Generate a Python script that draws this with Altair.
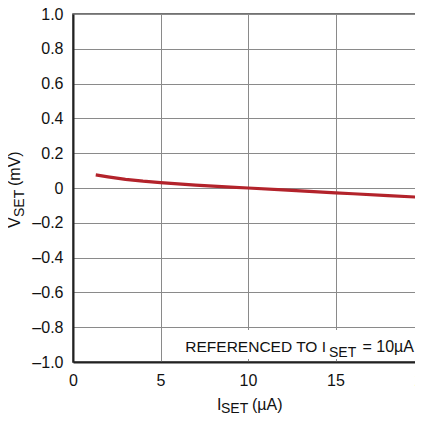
import altair as alt
import pandas as pd

# Data
iset_ua = [1.3, 2, 3, 4, 5, 6, 7, 8, 9, 10, 12, 14, 15, 16, 18, 20]
vset_mv = [0.075, 0.064, 0.050, 0.039, 0.031, 0.024, 0.017, 0.011, 0.005, 0.0,
           -0.011, -0.022, -0.028, -0.033, -0.044, -0.054]
x_ticks = [0, 5, 10, 15, 20]
y_ticks = [-1.0, -0.8, -0.6, -0.4, -0.2, 0.0, 0.2, 0.4, 0.6, 0.8, 1.0]

FONT = "Liberation Sans, Arial, Helvetica, sans-serif"
LINE_COLOR = "#B3232B"

df = pd.DataFrame({"iset": iset_ua, "vset": vset_mv})
one = pd.DataFrame({"k": [0]})

line = alt.Chart(df).mark_line(color=LINE_COLOR, strokeWidth=3.2).encode(
    x=alt.X("iset:Q",
            scale=alt.Scale(domain=[0, 20], nice=False, zero=False),
            axis=alt.Axis(values=x_ticks, title=None, grid=True, ticks=False,
                          labelFlush=False, labelOverlap=False, labelPadding=10,
                          format="d")),
    y=alt.Y("vset:Q",
            scale=alt.Scale(domain=[-1, 1], nice=False),
            axis=alt.Axis(values=y_ticks, title=None, grid=True, ticks=False,
                          labelOverlap=False, labelPadding=10,
                          labelExpr="abs(datum.value) < 1e-9 ? '0' : replace(replace(format(datum.value, '.1f'), '-', '\u2013'), '\u2212', '\u2013')")),
)

# white box behind the annotation
box = alt.Chart(one).mark_rect(color="white").encode(
    x=alt.value(110), x2=alt.value(352), y=alt.value(316), y2=alt.value(345)
)

def txt(s, x, y, size, align="left", angle=0, font=FONT):
    return alt.Chart(one).mark_text(
        text=s, font=font, fontSize=size, align=align, baseline="alphabetic",
        angle=angle, color="#111"
    ).encode(x=alt.value(x), y=alt.value(y))

annot = (
    txt("REFERENCED TO I", 253, 338, 15.5, align="right")
    + txt("SET", 256, 343, 14)
    + txt("= 10\u00b5A", 341, 338, 16, align="right")
)

xtitle = (
    txt("I", 144, 396, 16)
    + txt("SET", 148, 399, 14)
    + txt("(\u00b5A)", 179, 396, 16)
)

ytitle = (
    txt("V", -53, 214, 16, angle=270)
    + txt("SET", -49, 203, 14, angle=270)
    + txt("(mV)", -53, 172, 16, angle=270)
)

chart = alt.layer(line, box, annot, xtitle, ytitle).properties(
    width=350, height=348,
    padding={"left": 65, "top": 6, "right": -8, "bottom": 52},
    autosize=alt.AutoSizeParams(type="none"),
).configure_view(
    stroke="#444", strokeWidth=1.5
).configure_axis(
    labelFont=FONT, labelFontSize=16, labelColor="#111",
    gridColor="#8a8a8a", gridWidth=1, gridOpacity=1,
    domainColor="#222", domainWidth=2,
)

chart.save("out.html", embed_options={"renderer": "svg", "actions": False})
